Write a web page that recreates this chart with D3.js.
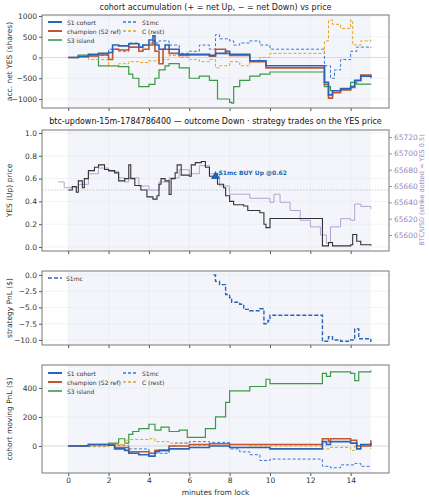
<!DOCTYPE html>
<html><head><meta charset="utf-8">
<script src="https://cdn.jsdelivr.net/npm/d3@7"></script>
<style>body{margin:0;background:#fff}text{font-family:"DejaVu Sans",sans-serif}</style>
</head><body><div id="chart"></div>
<script>
// [minute, value] step series
const accS1 = [[0,0],[0.5,30],[1,80],[1.5,100],[2,120],[2.2,300],[2.5,280],[3,330],[3.5,250],[3.7,300],[4,420],[4.2,520],[4.3,300],[4.5,200],[4.8,300],[5,200],[5.5,80],[6,80],[7,50],[7.3,100],[7.8,150],[8,80],[9,-80],[9.8,-200],[12.6,-200],[12.7,-600],[12.9,-900],[13.1,-800],[13.5,-750],[14,-700],[14.2,-550],[14.5,-450],[15,-480]];
const accChamp = [[0,0],[0.5,20],[1,40],[1.5,60],[2,-50],[2.2,200],[2.5,180],[3,250],[3.5,150],[3.7,200],[4,300],[4.2,400],[4.3,150],[4.5,-150],[4.7,200],[5,100],[5.5,50],[6,60],[7,30],[7.3,200],[7.8,100],[8,50],[9,-100],[9.8,-250],[12.6,-250],[12.7,-650],[12.9,-980],[13.1,-850],[13.5,-780],[14,-720],[14.2,-560],[14.5,-420],[15,-490]];
const accS3 = [[0,0],[0.5,60],[1,40],[1.5,-200],[2,-200],[2.5,-220],[3,-400],[3.2,-500],[3.5,-700],[4,-650],[4.3,-500],[4.5,-300],[4.8,-200],[5,-150],[5.5,-250],[6,-500],[6.5,-450],[7,-550],[7.4,-1000],[8,-1080],[8.1,-1100],[8.2,-700],[8.5,-550],[9,-450],[9.5,-400],[10,-350],[12.6,-350],[12.7,-700],[13,-800],[13.5,-750],[14,-600],[14.3,-640],[15,-650]];
const accMc = [[0,0],[1,50],[2,200],[2.5,150],[3,350],[3.5,300],[4,350],[4.5,400],[5,300],[5.5,100],[6,150],[6.5,300],[7,200],[7.3,550],[7.5,450],[8,400],[8.2,300],[8.5,350],[9,400],[9.5,300],[10,200],[12.6,200],[12.7,-200],[13,-500],[13.2,-300],[13.5,-50],[14,150],[14.3,250],[15,230]];
const accC = [[0,0],[1,-50],[2,-200],[2.5,-150],[3,-100],[3.5,-120],[4,-80],[4.5,-50],[5,50],[5.5,0],[6,-50],[6.5,-100],[7,-50],[7.3,-250],[7.5,-200],[8,-100],[8.5,-200],[9,-100],[9.5,0],[10,100],[12.6,100],[12.7,400],[12.9,900],[13.1,800],[13.5,700],[14,900],[14.1,300],[14.5,400],[15,430]];

const yesPrice = [[0,0.5],[0.2,0.53],[0.4,0.48],[0.5,0.58],[0.7,0.52],[0.8,0.6],[1,0.67],[1.3,0.7],[1.5,0.72],[1.8,0.68],[2,0.67],[2.3,0.65],[2.5,0.58],[2.8,0.6],[3,0.72],[3.1,0.6],[3.3,0.54],[3.6,0.5],[3.9,0.44],[4.2,0.42],[4.4,0.45],[4.5,0.55],[4.6,0.6],[4.8,0.58],[5,0.46],[5.1,0.6],[5.3,0.65],[5.4,0.72],[5.6,0.63],[6,0.62],[6.1,0.72],[6.3,0.74],[6.6,0.75],[6.8,0.7],[7,0.62],[7.3,0.64],[7.4,0.55],[7.7,0.52],[7.8,0.45],[8,0.4],[8.2,0.37],[8.7,0.36],[8.9,0.32],[9.5,0.3],[9.7,0.2],[9.8,0.17],[10,0.25],[12.6,0.01],[12.9,0.04],[13.1,0.01],[13.5,0.01],[14,0.02],[14.1,0.11],[14.3,0.05],[14.5,0.02],[15,0.01]];
const btcPrice = [[-0.5,65665],[-0.2,65658],[0.5,65662],[1,65675],[1.5,65682],[2,65678],[2.5,65670],[2.8,65665],[3,65670],[3.5,65660],[4,65655],[4.5,65665],[5,65670],[5.5,65680],[6,65675],[6.5,65685],[7,65675],[7.5,65660],[8,65650],[9,65645],[10,65640],[10.2,65650],[10.5,65640],[11,65630],[11.5,65618],[12,65610],[12.5,65600],[12.8,65590],[13,65610],[13.5,65620],[14,65618],[14.2,65638],[14.5,65635],[15,65632]];
const trade = {t: 7.3, p: 0.62, label: "S1mc BUY Up @0.62"};

const pnlMc = [[7.2,0],[7.3,-1],[7.5,-1.5],[7.8,-3],[8,-3.5],[8.1,-4.2],[8.5,-4.5],[8.7,-5.3],[9,-5.5],[9.5,-5.2],[9.7,-7.5],[9.9,-7],[10,-6.2],[12.6,-10.2],[12.9,-9.5],[13.1,-10],[13.5,-10.2],[14,-10],[14.2,-8.3],[14.4,-9.8],[15,-10.3]];

const movS1 = [[0,0],[1,10],[2,5],[2.3,-20],[2.8,-30],[3,-50],[3.5,-60],[4,-70],[4.3,-40],[4.5,-30],[5,-20],[6,-10],[7,0],[8,-10],[10,-20],[12.6,30],[12.8,10],[13,30],[14,20],[14.3,-20],[14.5,10],[15,20]];
const movChamp = [[0,0],[1,10],[2,10],[2.3,-10],[3,-40],[4,-50],[4.3,-30],[5,0],[6,10],[7,15],[8,10],[10,10],[12.6,50],[12.9,30],[13,50],[14,40],[14.3,0],[15,40]];
const movS3 = [[0,0],[1,10],[2,20],[2.5,50],[2.8,20],[3,80],[3.2,100],[3.5,120],[4,150],[4.3,110],[4.6,130],[5,100],[5.5,110],[5.9,60],[6.8,120],[7.3,200],[7.8,300],[8,380],[9,410],[9.8,460],[10,430],[12.6,500],[12.8,480],[13,510],[14,500],[14.2,450],[14.4,510],[15,520]];
const movMc = [[0,0],[2,5],[3,-20],[4,-50],[5,0],[5.3,20],[6,30],[7,25],[8,-20],[8.5,-40],[9,-60],[9.5,-100],[10,-90],[12.6,-140],[13,-150],[13.5,-130],[14.2,-120],[14.5,-140],[15,-145]];
const movC = [[0,0],[1,-5],[2,10],[2.8,40],[3,45],[4,50],[4.3,30],[5,20],[6,5],[7,0],[8,10],[9,0],[10,0],[12.6,-20],[13,-10],[14,-30],[14.2,0],[15,-20]];

const xTicks = [0,2,4,6,8,10,12,14];
const cohorts = [
  {name:"S1 cohort", color:"#2a64b8", dash:null, w:1.6},
  {name:"champion (S2 ref)", color:"#c4552e", dash:null, w:1.6},
  {name:"S3 island", color:"#3a9a45", dash:null, w:1.2},
  {name:"S1mc", color:"#3a78d0", dash:"3,2", w:1},
  {name:"C (rest)", color:"#e3a51a", dash:"3,2", w:1}
];

const W = 429, H = 500, L = 42, R = 389;
const svg = d3.select("#chart").append("svg").attr("width", W).attr("height", H);
const x = d3.scaleLinear().domain([-1.3, 15.9]).range([L, R]);
const line = (xs, ys) => d3.line().x(d => xs(d[0])).y(d => ys(d[1])).curve(d3.curveStepAfter);

function panel(top, bot, dom, ticks, fmt, ylabel, showX) {
  const y = d3.scaleLinear().domain(dom).range([bot, top]);
  const g = svg.append("g");
  g.append("rect").attr("x", x(0)).attr("width", x(15) - x(0)).attr("y", top).attr("height", bot - top).attr("fill", "#f3f5fa");
  g.selectAll(".gx").data(xTicks).enter().append("line").attr("x1", d => x(d)).attr("x2", d => x(d)).attr("y1", top).attr("y2", bot).attr("stroke", "#e3e6ec").attr("stroke-width", 0.5);
  g.selectAll(".gy").data(ticks).enter().append("line").attr("x1", L).attr("x2", R).attr("y1", d => y(d)).attr("y2", d => y(d)).attr("stroke", "#e3e6ec").attr("stroke-width", 0.5);
  const ya = g.append("g").attr("transform", `translate(${L},0)`).call(d3.axisLeft(y).tickValues(ticks).tickFormat(fmt).tickSize(3).tickPadding(2));
  const xa = g.append("g").attr("transform", `translate(0,${bot})`).call(d3.axisBottom(x).tickValues(xTicks).tickFormat(showX ? d3.format("d") : "").tickSize(3).tickPadding(2));
  [ya, xa].forEach(a => { a.select(".domain").remove(); a.selectAll("text").attr("font-size", 7.5).attr("fill", "#333"); a.selectAll("line").attr("stroke", "#555"); });
  g.append("rect").attr("x", L).attr("y", top).attr("width", R - L).attr("height", bot - top).attr("fill", "none").attr("stroke", "#777").attr("stroke-width", 1);
  g.append("text").attr("transform", `translate(12,${(top + bot) / 2}) rotate(-90)`).attr("text-anchor", "middle").attr("font-size", 7.5).attr("fill", "#333").text(ylabel);
  return y;
}

function draw(y, series, lineSet) {
  series.forEach((s, i) => {
    const c = lineSet[i];
    svg.append("path").datum(s).attr("fill", "none").attr("stroke", c.color).attr("stroke-width", c.w)
      .attr("stroke-dasharray", c.dash).attr("d", line(x, y));
  });
}

function legend(x0, y0, items) {
  items.forEach((c, i) => {
    const col = i < 3 ? 0 : 1, row = i < 3 ? i : i - 3;
    const lx = x0 + col * 75, ly = y0 + row * 9;
    svg.append("line").attr("x1", lx).attr("x2", lx + 14).attr("y1", ly).attr("y2", ly).attr("stroke", c.color).attr("stroke-width", c.w + 0.4).attr("stroke-dasharray", c.dash);
    svg.append("text").attr("x", lx + 19).attr("y", ly + 2.5).attr("font-size", 6).attr("fill", "#333").text(c.name);
  });
}

// panel 1
svg.append("text").attr("x", (L + R) / 2).attr("y", 10).attr("text-anchor", "middle").attr("font-size", 8).attr("fill", "#222").text("cohort accumulation (+ = net Up, − = net Down) vs price");
const y1 = panel(15, 108, [-1217, 1024], [-1000, -500, 0, 500, 1000], d3.format("d"), "acc. net YES (shares)", false);
y1.ticks && svg.append("line").attr("x1", L).attr("x2", R).attr("y1", y1(0)).attr("y2", y1(0)).attr("stroke", "#ccc").attr("stroke-width", 0.6);
draw(y1, [accS3, accMc, accC, accChamp, accS1], [cohorts[2], cohorts[3], cohorts[4], cohorts[1], cohorts[0]]);
legend(48, 22, cohorts);

// panel 2
svg.append("text").attr("x", (L + R) / 2).attr("y", 124).attr("text-anchor", "middle").attr("font-size", 8).attr("fill", "#111").text("btc-updown-15m-1784786400 — outcome Down · strategy trades on the YES price");
const y2 = panel(130, 251, [-0.035, 1.026], [0, 0.2, 0.4, 0.6, 0.8, 1.0], d3.format(".1f"), "YES (Up) price", false);
const yb = d3.scaleLinear().domain([65580.4, 65728.6]).range([251, 130]);
const ra = svg.append("g").attr("transform", `translate(${R},0)`).call(d3.axisRight(yb).tickValues([65600, 65620, 65640, 65660, 65680, 65700, 65720]).tickFormat(d3.format("d")).tickSize(3).tickPadding(2));
ra.select(".domain").remove();
ra.selectAll("text").attr("font-size", 7.5).attr("fill", "#9b86c0");
ra.selectAll("line").attr("stroke", "#9b86c0");
svg.append("text").attr("transform", `translate(424,190) rotate(-90)`).attr("text-anchor", "middle").attr("font-size", 6.5).attr("fill", "#9b86c0").text("BTC/USD (strike dotted = YES 0.5)");
svg.append("line").attr("x1", L).attr("x2", R).attr("y1", y2(0.5)).attr("y2", y2(0.5)).attr("stroke", "#aaa").attr("stroke-width", 0.6).attr("stroke-dasharray", "1.5,1.5");
svg.append("path").datum(btcPrice).attr("fill", "none").attr("stroke", "#b4a3d4").attr("stroke-width", 1).attr("d", line(x, yb));
svg.append("path").datum(yesPrice).attr("fill", "none").attr("stroke", "#333").attr("stroke-width", 1.1).attr("d", line(x, y2));
svg.append("path").attr("d", d3.symbol(d3.symbolTriangle, 36)()).attr("transform", `translate(${x(trade.t)},${y2(trade.p)})`).attr("fill", "#2563b0");
svg.append("text").attr("x", x(trade.t) + 3).attr("y", y2(trade.p) - 1).attr("font-size", 6).attr("font-weight", "bold").attr("fill", "#2563b0").text(trade.label);

// panel 3
const y3 = panel(271, 345, [-10.77, 0.6], [-10, -7.5, -5, -2.5, 0], d3.format(".1f"), "strategy PnL ($)", false);
svg.append("path").datum(pnlMc).attr("fill", "none").attr("stroke", "#2a64b8").attr("stroke-width", 1.4).attr("stroke-dasharray", "4,2").attr("d", line(x, y3));
svg.append("line").attr("x1", 48).attr("x2", 62).attr("y1", 278).attr("y2", 278).attr("stroke", "#2a64b8").attr("stroke-width", 1.6).attr("stroke-dasharray", "4,2");
svg.append("text").attr("x", 66).attr("y", 280.5).attr("font-size", 6).attr("fill", "#333").text("S1mc");

// panel 4
const y4 = panel(365, 473, [-186, 558], [0, 200, 400], d3.format("d"), "cohort moving PnL ($)", true);
svg.append("line").attr("x1", L).attr("x2", R).attr("y1", y4(0)).attr("y2", y4(0)).attr("stroke", "#ccc").attr("stroke-width", 0.6);
draw(y4, [movS3, movMc, movC, movChamp, movS1], [cohorts[2], cohorts[3], cohorts[4], cohorts[1], cohorts[0]]);
legend(48, 373, cohorts);
svg.append("text").attr("x", (L + R) / 2).attr("y", 495).attr("text-anchor", "middle").attr("font-size", 7.5).attr("fill", "#333").text("minutes from lock");
</script></body></html>
